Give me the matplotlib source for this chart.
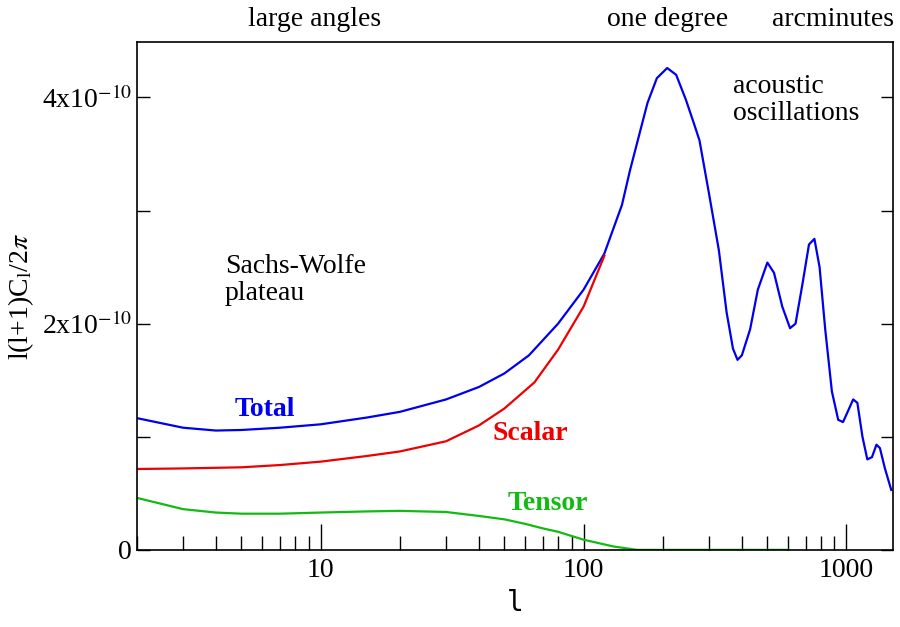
import matplotlib.pyplot as plt
from matplotlib.ticker import FixedLocator, NullFormatter

plt.rcParams["font.family"] = "Liberation Serif"
plt.rcParams["mathtext.fontset"] = "stix"

# multipole l and l(l+1)C_l/2pi (units of 1e-10)
total_l = [2, 3, 4, 5, 7, 10, 15, 20, 30, 40, 50, 62, 80, 100, 120, 140, 150, 162, 175, 190,
           208, 225, 245, 262, 276, 300, 327, 350, 370, 385, 400, 430, 460, 500, 530, 570, 610,
           640, 680, 720, 755, 790, 830, 880, 930, 970, 1010, 1060, 1100, 1150, 1200, 1250, 1300,
           1340, 1400, 1480]
total_v = [1.165, 1.08, 1.055, 1.06, 1.08, 1.11, 1.17, 1.22, 1.33, 1.44, 1.56, 1.72, 2.00, 2.30,
           2.62, 3.05, 3.35, 3.65, 3.95, 4.17, 4.26, 4.20, 3.98, 3.78, 3.62, 3.15, 2.65, 2.10, 1.78,
           1.68, 1.72, 1.95, 2.30, 2.54, 2.45, 2.15, 1.96, 2.00, 2.35, 2.70, 2.75, 2.50, 1.95, 1.40,
           1.15, 1.13, 1.22, 1.33, 1.30, 1.00, 0.80, 0.82, 0.93, 0.90, 0.72, 0.53]

scalar_l = [2, 3, 5, 7, 10, 15, 20, 30, 40, 50, 65, 80, 100, 120]
scalar_v = [0.715, 0.72, 0.73, 0.75, 0.78, 0.83, 0.87, 0.96, 1.10, 1.25, 1.48, 1.77, 2.15, 2.60]

tensor_l = [2, 3, 4, 5, 7, 10, 15, 20, 30, 40, 50, 60, 70, 80, 100, 130, 160, 250, 600]
tensor_v = [0.46, 0.36, 0.33, 0.32, 0.32, 0.33, 0.34, 0.345, 0.335, 0.30, 0.27, 0.23, 0.19, 0.16,
            0.09, 0.03, 0.0, 0.0, 0.0]

fig = plt.figure(figsize=(9, 6.27), dpi=100)
ax = fig.add_axes([0.152, 0.123, 0.840, 0.810])

e = 1e-10
ax.plot(total_l, [v * e for v in total_v], color="#0000ee", lw=1.6)
ax.plot(scalar_l, [v * e for v in scalar_v], color="#ee0000", lw=1.6)
ax.plot(tensor_l, [v * e for v in tensor_v], color="#11bb11", lw=1.6)

ax.set_xscale("log")
ax.set_xlim(2, 1500)
ax.set_ylim(0, 4.49e-10)
ax.set_xticks([10, 100, 1000])
ax.set_xticklabels(["10", "100", "1000"])
ax.xaxis.set_minor_formatter(NullFormatter())
ax.set_yticks([0, 2e-10, 4e-10])
ax.set_yticklabels(["0", r"2x10$^{-10}$", r"4x10$^{-10}$"])
ax.yaxis.set_minor_locator(FixedLocator([1e-10, 3e-10]))
ax.tick_params(axis="x", which="major", direction="in", length=19, width=1, labelsize=20, pad=6)
ax.tick_params(axis="x", which="minor", direction="in", length=10, width=1)
ax.tick_params(axis="y", which="both", direction="in", length=9, width=1, labelsize=20,
               right=True)
for s in ax.spines.values():
    s.set_linewidth(1.2)

ax.set_xlabel("l", fontsize=20, family="DejaVu Sans Mono")
ax.set_ylabel(r"l(l+1)C$_\mathregular{l}$/2$\pi$", fontsize=20)

fig.text(315 / 900, 1 - 20 / 627, "large angles", fontsize=20, ha="center", va="center")
fig.text(668 / 900, 1 - 20 / 627, "one degree", fontsize=20, ha="center", va="center")
fig.text(833 / 900, 1 - 20 / 627, "arcminutes", fontsize=20, ha="center", va="center")
fig.text(733 / 900, 1 - 100 / 627, "acoustic\noscillations", fontsize=20, ha="left", va="center",
         linespacing=1.1)
fig.text(225 / 900, 1 - 280 / 627, "Sachs-Wolfe\nplateau", fontsize=20, ha="left", va="center",
         linespacing=1.1)
fig.text(265 / 900, 1 - 410 / 627, "Total", fontsize=20, color="#0000ee", weight="bold",
         ha="center", va="center")
fig.text(530 / 900, 1 - 433 / 627, "Scalar", fontsize=20, color="#ee0000", weight="bold",
         ha="center", va="center")
fig.text(548 / 900, 1 - 503 / 627, "Tensor", fontsize=20, color="#11bb11", weight="bold",
         ha="center", va="center")

fig.savefig("out.png", dpi=100)
